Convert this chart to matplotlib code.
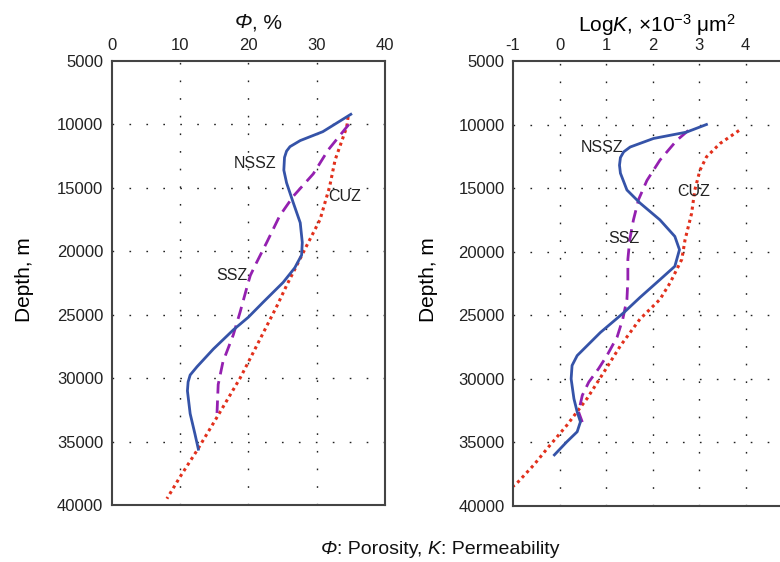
import numpy as np
import matplotlib
matplotlib.use('Agg')
import matplotlib.pyplot as plt
from matplotlib.offsetbox import TextArea, HPacker, AnnotationBbox

plt.rcParams['font.family'] = ['Liberation Sans', 'DejaVu Sans']
plt.rcParams['mathtext.fontset'] = 'custom'
plt.rcParams['mathtext.rm'] = 'Liberation Sans'
plt.rcParams['mathtext.it'] = 'Liberation Sans:italic'
plt.rcParams['axes.unicode_minus'] = False

#---------------- porosity (%) vs depth (m)
phi_nssz_x = [35.0, 30.9, 27.6, 26.1, 25.6, 25.3, 25.2, 25.6, 26.6, 27.6, 27.9, 27.8, 26.8, 25.1,
              22.2, 20.0, 17.8, 14.9, 12.5, 11.5, 11.2, 11.1, 11.5, 12.2, 12.7]
phi_nssz_d = [9200, 10570, 11270, 11750, 12100, 12600, 13600, 14600, 16200, 17750, 19300, 20300, 21300, 22450,
              24000, 25200, 26200, 27700, 29100, 29750, 30300, 31000, 32800, 34400, 35600]

phi_ssz_x = [34.7, 31.7, 29.5, 26.6, 24.6, 22.7, 21.2, 20.3, 20.0, 18.8, 17.8, 16.3, 15.6, 15.4]
phi_ssz_d = [10000, 12000, 13900, 15650, 17200, 19300, 20900, 21900, 22450, 24800, 26600, 28700, 30500, 33100]

phi_cuz_x = [34.6, 34.4, 32.7, 31.9, 30.5, 28.5, 27.1, 25.6, 24.2, 20.8, 18.8, 15.4, 12.5, 10.0, 8.1]
phi_cuz_d = [9400, 10200, 12800, 14900, 17500, 19600, 21100, 22700, 24300, 27900, 30000, 33100, 35700, 37800, 39500]

#---------------- log permeability vs depth (m)
k_nssz_x = [3.16, 2.73, 2.02, 1.52, 1.38, 1.31, 1.29, 1.31, 1.45, 1.73, 2.16, 2.48, 2.58, 2.48, 2.16, 1.73,
            1.38, 0.88, 0.38, 0.27, 0.25, 0.31, 0.38, 0.45, 0.38, 0.16, -0.11]
k_nssz_d = [10000, 10600, 11100, 11770, 12150, 12600, 13200, 13830, 15150, 16170, 17500, 18800, 19840, 21150,
            22200, 23600, 24800, 26350, 28170, 28950, 30000, 31560, 32600, 33380, 34160, 34940, 35980]

k_ssz_x = [2.77, 2.52, 2.16, 1.88, 1.70, 1.59, 1.51, 1.47, 1.47, 1.45, 1.36, 1.24, 1.02, 0.84, 0.63, 0.49, 0.41, 0.49]
k_ssz_d = [10470, 11250, 12800, 14400, 15900, 17500, 19060, 20600, 22200, 23750, 25300, 26700, 28170, 29200,
           30250, 31300, 32600, 33400]

k_cuz_x = [3.86, 3.45, 3.16, 3.02, 2.91, 2.84, 2.70, 2.63, 2.38, 2.16, 1.73, 1.31, 0.95, 0.59, 0.16, -0.26, -0.55, -0.94, -1.1]
k_cuz_d = [10470, 11500, 12550, 13600, 15150, 17000, 19060, 20600, 22440, 23750, 25300, 27400, 29500, 31560,
           33640, 35460, 36760, 38300, 38700]

depth_ticks = [5000, 10000, 15000, 20000, 25000, 30000, 35000, 40000]
phi_ticks = [0, 10, 20, 30, 40]
k_ticks = [-1, 0, 1, 2, 3, 4]

zone_labels = ['NSSZ', 'CUZ', 'SSZ']
phi_label_pos = [(21.0, 13100), (34.1, 15650), (17.6, 21900)]
k_label_pos = [(0.91, 11770), (2.88, 15300), (1.39, 19000)]

blue = '#3553a8'
purple = '#9420b0'
red = '#e2301c'


def style_axis(ax, xticks, xgrid):
    ax.set_ylim(40000, 5000)
    ax.set_yticks(depth_ticks)
    ax.set_xticks(xticks)
    ax.xaxis.tick_top()
    ax.tick_params(length=0, labelsize=12, colors='#222222', pad=6)
    for s in ax.spines.values():
        s.set_color('#444444')
        s.set_linewidth(1.5)
    for t in xgrid:
        ax.axvline(t, color='#222222', lw=1.0, ls=(0, (1.2, 11.5)), zorder=0)
    for d in depth_ticks[1:-1]:
        ax.axhline(d, color='#222222', lw=1.0, ls=(0, (1.2, 11)), zorder=0)


def mixed_text(fig, pieces, xy, size):
    # pieces: list of (text, style) glued on one baseline
    boxes = [TextArea(t, textprops=dict(fontsize=size, style=st, color='#111111')) for t, st in pieces]
    pack = HPacker(children=boxes, pad=0, sep=0, align='baseline')
    ab = AnnotationBbox(pack, xy, xycoords='figure fraction', frameon=False,
                        box_alignment=(0.5, 0.5), pad=0)
    fig.add_artist(ab)


fig = plt.figure(figsize=(7.8, 5.62), dpi=100)

#------------- porosity
ax1 = fig.add_axes([0.143, 0.1014, 0.3506, 0.790])
ax1.plot(phi_cuz_x, phi_cuz_d, color=red, lw=2.2, ls=(0, (1, 1.2)))
ax1.plot(phi_ssz_x, phi_ssz_d, color=purple, lw=2, ls=(0, (4.5, 2.5)))
ax1.plot(phi_nssz_x, phi_nssz_d, color=blue, lw=2)
ax1.set_xlim(0, 40)
style_axis(ax1, phi_ticks, phi_ticks[1:-1])
for lab, (x, y) in zip(zone_labels, phi_label_pos):
    ax1.text(x, y, lab, fontsize=11.5, ha='center', va='center', color='#222222')

#------------- permeability
ax2 = fig.add_axes([0.6577, 0.0996, 0.3577, 0.792])
ax2.plot(k_cuz_x, k_cuz_d, color=red, lw=2.2, ls=(0, (1, 1.2)))
ax2.plot(k_ssz_x, k_ssz_d, color=purple, lw=2, ls=(0, (4.5, 2.5)))
ax2.plot(k_nssz_x, k_nssz_d, color=blue, lw=2)
ax2.set_xlim(-1, 5)
style_axis(ax2, k_ticks, k_ticks[1:])
for lab, (x, y) in zip(zone_labels, k_label_pos):
    ax2.text(x, y, lab, fontsize=11.5, ha='center', va='center', color='#222222')

mixed_text(fig, [('Φ', 'italic'), (', %', 'normal')], (258 / 780, 1 - 23 / 562), 15)
fig.text(657 / 780, 1 - 25 / 562, r'Log$\mathit{K}$, ×10$^{-3}$ μm$^{2}$', fontsize=15, ha='center', va='center')
fig.text(25 / 780, 1 - 280 / 562, 'Depth, m', fontsize=15, rotation=90, ha='center', va='center')
fig.text(428 / 780, 1 - 280 / 562, 'Depth, m', fontsize=15, rotation=90, ha='center', va='center')
mixed_text(fig, [('Φ', 'italic'), (': Porosity, ', 'normal'), ('K', 'italic'), (': Permeability', 'normal')],
           (440 / 780, 1 - 549 / 562), 14)

fig.savefig('out.png', dpi=100)
